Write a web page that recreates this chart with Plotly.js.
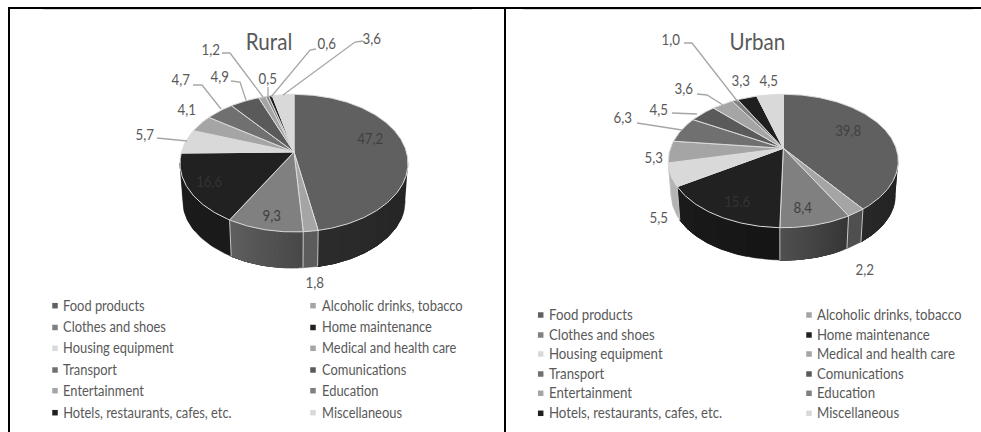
<!DOCTYPE html>
<html>
<head>
<meta charset="utf-8">
<script src="https://cdn.plot.ly/plotly-3.0.1.min.js"></script>
<style>html,body{margin:0;padding:0;background:#fff}#chart{width:981px;height:432px}</style>
</head>
<body>
<div id="chart"></div>
<script>
// Household spending structure, rural and urban, share of total in percent.
const categories = ["Food products", "Alcoholic drinks, tobacco", "Clothes and shoes", "Home maintenance",
  "Housing equipment", "Medical and health care", "Transport", "Comunications",
  "Entertainment", "Education", "Hotels, restaurants, cafes, etc.", "Miscellaneous"];
const ruralValues = [47.2, 1.8, 9.3, 16.6, 5.7, 4.1, 4.7, 4.9, 1.2, 0.5, 0.6, 3.6];
const urbanValues = [39.8, 2.2, 8.4, 15.6, 5.5, 5.3, 6.3, 4.5, 3.6, 1.0, 3.3, 4.5];
const sliceGrays = [96, 165, 128, 33, 217, 165, 112, 90, 165, 127, 31, 217];

// Styling and placement for each tilted pie.
const FONT = 'Lato, "Liberation Sans", sans-serif';
const TEXT_CONDENSE = 0.86;
const ruralPanel = {
  title: "Rural", titleAt: [269, 41.5], values: ruralValues,
  cx: 294, cy: 152, A: 112.5, B: 67, k: 0.162, drop: 38,
  wallShade: [[.36, .46], [.56, .56], [.56, .74], [.78, .85], [.82, .82]],
  labelAt: [[370, 139], [315, 283], [272, 216], [209, 182], [145, 135], [187, 110],
            [181, 80], [220, 77], [211, 50], [268, 79], [327, 44], [372, 39]],
  labelColor: ["#404040", "#595959", "#404040", "#333333"],
  leaders: [[[157, 138], [187, 141]],
            [[193, 85], [202, 85], [221, 109]],
            [[231, 81], [240, 82], [246, 100]],
            [[222, 53], [230, 53], [263, 97]],
            [[268, 87], [268, 97]],
            [[316, 49], [310, 50], [271, 97]],
            [[363, 41], [355, 42], [283, 95]]],
  legendX: [55, 313], legendTextX: [61, 320], legendSize: 15,
  legendY: [305.7, 327.5, 348.3, 370, 390.7, 412.7]
};
const urbanPanel = {
  title: "Urban", titleAt: [757, 41.5], values: urbanValues,
  cx: 783.3, cy: 148.3, A: 112.9, B: 64.3, k: 0.19, drop: 34.3,
  wallShade: [[.34, .42], [.48, .48], [.42, .62], [.62, .8], [.83, .83]],
  labelAt: [[848, 131], [865, 270], [803, 208], [737, 202], [659, 218], [654, 158],
            [623, 118], [659, 110], [684, 89], [671, 40], [741, 81], [769, 81]],
  labelColor: ["#404040", "#595959", "#404040", "#333333"],
  leaders: [[[637, 123], [643, 124], [682, 130]],
            [[672, 113], [697, 114]],
            [[697, 94], [707, 95], [723, 105]],
            [[684, 43], [692, 43], [738, 102]]],
  legendX: [540.7, 809], legendTextX: [547, 815], legendSize: 15.4,
  legendY: [315, 335, 354, 374, 393.3, 413.3]
};

const gray = (g) => { const v = Math.round(g); return `rgb(${v},${v},${v})`; };
const rad = (deg) => deg * Math.PI / 180;

// Perspective projection of a point on the pie's unit circle, angle clockwise from 12 o'clock.
function rimTop(p, deg) {
  const u = Math.sin(rad(deg)), v = Math.cos(rad(deg)), w = 1 + p.k * v;
  return [p.cx + p.A * u / w, p.cy - p.B * v / w];
}
function rimLow(p, deg) {
  const t = rimTop(p, deg), s = 0.975;
  return [p.cx + (t[0] - p.cx) * s, p.cy + p.drop + (t[1] - p.cy) * s];
}
const poly = (pts, fill, lineColor, lineWidth) => ({
  type: "scatter", mode: "lines", x: pts.map(q => q[0]), y: pts.map(q => q[1]),
  fill: "toself", fillcolor: fill, line: {color: lineColor, width: lineWidth},
  hoverinfo: "skip", showlegend: false
});
const path = (pts, color, width) => ({
  type: "scatter", mode: "lines", x: pts.map(q => q[0]), y: pts.map(q => q[1]),
  line: {color: color, width: width}, hoverinfo: "skip", showlegend: false
});

const traces = [], notes = [];
function text(str, at, size, color, anchor) {
  notes.push({x: at[0], y: at[1] - 1.2, xref: "x", yref: "y", text: str, showarrow: false,
    xanchor: anchor || "center", yanchor: "middle",
    font: {family: FONT, size: size, color: color}});
}

function wallOutline(p, d1, d2) {
  const pts = [];
  for (let d = d1; d < d2; d += 1) pts.push(rimTop(p, d));
  pts.push(rimTop(p, d2));
  for (let d = d2; d > d1; d -= 1) pts.push(rimLow(p, d));
  pts.push(rimLow(p, d1));
  return pts;
}

function drawPanel(p) {
  const total = p.values.reduce((a, b) => a + b, 0);
  const edges = [0];
  p.values.forEach((v, i) => edges.push(edges[i] + v / total * 360));
  const wallFrom = Math.acos(-p.k) * 180 / Math.PI, wallTo = 360 - wallFrom;

  // Outer wall, painted in overlapping strips so each slice shades across its width.
  p.values.forEach((v, i) => {
    const a = Math.max(edges[i], wallFrom), b = Math.min(edges[i + 1], wallTo);
    if (b <= a || !p.wallShade[i]) return;
    const s = p.wallShade[i];
    const n = s[0] === s[1] ? 1 : Math.max(1, Math.ceil(Math.abs(s[1] - s[0]) * sliceGrays[i] / 1.5));
    for (let j = 0; j < n; j++) {
      // Each strip runs to the far end of the slice; later ones paint over the earlier ones.
      const d1 = a + (b - a) * j / n;
      const c = gray(sliceGrays[i] * (s[0] + (s[1] - s[0]) * (j + 0.5) / n));
      traces.push(poly(wallOutline(p, d1, b), c, c, 0.5));
    }
  });
  // Seams between neighbouring slices on the wall.
  edges.forEach(d => {
    if (d > wallFrom && d < wallTo) traces.push(path([rimTop(p, d), rimLow(p, d)], "#c4c4c4", 1));
  });
  // Top faces.
  p.values.forEach((v, i) => {
    const pts = [[p.cx, p.cy]];
    for (let d = edges[i]; d < edges[i + 1]; d += 1) pts.push(rimTop(p, d));
    pts.push(rimTop(p, edges[i + 1]), [p.cx, p.cy]);
    traces.push(poly(pts, gray(sliceGrays[i]), "#dcdcdc", 1));
  });
  // Leader lines and value labels.
  p.leaders.forEach(l => traces.push(path(l, "#a6a6a6", 1.3)));
  p.values.forEach((v, i) => {
    text(v.toFixed(1).replace(".", ","), p.labelAt[i], 15.5, p.labelColor[i] || "#595959");
  });
  text(p.title, p.titleAt, 24, "#595959");

  // Two-column key underneath the pie.
  const mx = [], my = [], mc = [];
  categories.forEach((name, i) => {
    const col = i % 2, row = Math.floor(i / 2);
    mx.push(p.legendX[col]); my.push(p.legendY[row]); mc.push(gray(sliceGrays[i]));
    text(name, [p.legendTextX[col], p.legendY[row]], p.legendSize, "#595959", "left");
  });
  traces.push({type: "scatter", mode: "markers", x: mx, y: my,
    marker: {symbol: "square", size: 5.5, color: mc}, hoverinfo: "skip", showlegend: false});
}
drawPanel(ruralPanel);
drawPanel(urbanPanel);

// Panel frame: heavy rules with a faint line under the top edge.
const rule = (x0, y0, x1, y1, color, width) => ({type: "line", xref: "x", yref: "y",
  x0, y0, x1, y1, line: {color, width}});
const layout = {
  width: 981, height: 432, margin: {l: 0, r: 0, t: 0, b: 0},
  paper_bgcolor: "#ffffff", plot_bgcolor: "#ffffff", showlegend: false,
  xaxis: {range: [0, 981], visible: false, fixedrange: true},
  yaxis: {range: [432, 0], visible: false, fixedrange: true},
  annotations: notes,
  shapes: [
    rule(43, 9.5, 472, 9.5, "#d4d4d4", 1),
    rule(523, 9.5, 973, 9.5, "#d4d4d4", 1),
    rule(8, 8, 981, 8, "#000000", 2),
    rule(9, 7, 9, 432, "#000000", 2),
    rule(505, 7, 505, 432, "#000000", 2)
  ]
};
Plotly.newPlot("chart", traces, layout, {displayModeBar: false, staticPlot: true}).then(gd => {
  // Narrow the lettering to a condensed set width, keeping each label's anchor in place.
  gd.querySelectorAll(".annotation").forEach(g => {
    const t = g.querySelector("text");
    const idx = +g.getAttribute("data-index");
    if (!t) return;
    t.style.transformBox = "fill-box";
    t.style.transformOrigin = notes[idx].xanchor === "left" ? "left center" : "center";
    t.style.transform = `scaleX(${TEXT_CONDENSE})`;
  });
});
</script>
</body>
</html>
